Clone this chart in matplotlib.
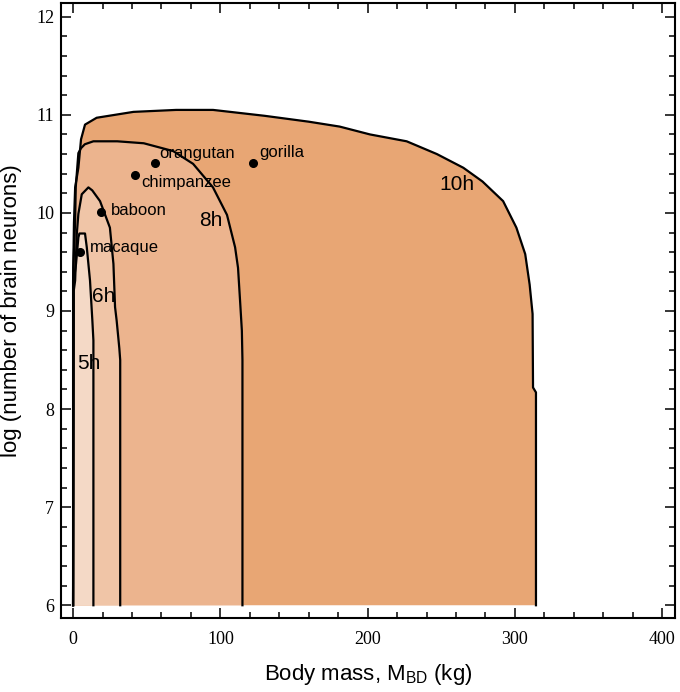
import matplotlib

matplotlib.use("Agg")
import matplotlib.pyplot as plt  # noqa: E402
from matplotlib.ticker import MultipleLocator  # noqa: E402

plt.rcParams["mathtext.fontset"] = "custom"
plt.rcParams["mathtext.rm"] = "Liberation Sans"

SANS = "Liberation Sans"
SERIF = "Liberation Serif"

# Region outlines (body mass kg, log neurons).
# Each outline runs from the bottom-left corner, over the top, down to bottom-right.
h10_x = [0, 0, 0.6, 1.4, 3.6, 5.4, 8.1, 16, 41, 70, 95, 130, 160, 181, 201.6, 226.5,
         247, 265, 278, 292, 301, 307, 310, 312, 312.3, 314.3, 314.3]
h10_y = [6, 9.3, 9.9, 10.26, 10.46, 10.75, 10.9, 10.97, 11.03, 11.05, 11.05, 10.99,
         10.93, 10.88, 10.8, 10.73, 10.6, 10.46, 10.32, 10.12, 9.85, 9.58, 9.27,
         8.97, 8.22, 8.17, 6]

h8_x = [0, 0.2, 1.4, 1.8, 3.6, 5.4, 8, 13.8, 30, 48, 68, 81.5, 95, 104.5, 110,
        112, 113.4, 114.6, 115, 115]
h8_y = [6, 9.44, 9.92, 10.26, 10.61, 10.66, 10.7, 10.73, 10.73, 10.71, 10.63,
        10.5, 10.26, 9.98, 9.65, 9.44, 9.1, 8.8, 8.5, 6]

h6_x = [0, 0.4, 1.4, 2.5, 3.6, 5.9, 10.4, 13, 18.3, 25, 27.4, 28.5, 29.6, 31.4, 32, 32]
h6_y = [6, 9.2, 9.31, 9.78, 9.99, 10.19, 10.26, 10.23, 10.12, 9.85, 9.48, 9.04,
        8.9, 8.62, 8.5, 6]

h5_x = [0, 0.4, 2, 3.6, 4.3, 8.1, 9.3, 11.5, 13.1, 13.8, 13.8]
h5_y = [6, 9.3, 9.48, 9.75, 9.79, 9.79, 9.65, 9.31, 8.9, 8.7, 6]

region_colors = ["#e8a674", "#ecb48e", "#f0c5a7", "#f4d9c6"]
region_labels = ["10h", "8h", "6h", "5h"]
label_x = [260.7, 93.7, 21, 10.4]
label_y = [10.29, 9.92, 9.15, 8.46]

# Species
species = ["orangutan", "gorilla", "chimpanzee", "baboon", "macaque"]
species_mass = [55.7, 122.4, 42.1, 18.8, 5.0]
species_neurons = [10.51, 10.51, 10.39, 10.01, 9.60]
species_text_x = [58.6, 126.5, 46.2, 25.8, 11.1]
species_text_y = [10.61, 10.62, 10.31, 10.02, 9.65]

fig = plt.figure(figsize=(6.8, 6.92), dpi=100)
ax = fig.add_axes([61 / 680, 1 - 618 / 692, 614 / 680, 615 / 692])

outlines = [(h10_x, h10_y), (h8_x, h8_y), (h6_x, h6_y), (h5_x, h5_y)]
for (xs, ys), col in zip(outlines, region_colors):
    ax.fill(xs, ys, color=col, lw=0, zorder=1)
    ax.plot(xs, ys, color="black", lw=1.6, zorder=2, solid_joinstyle="round")

for lab, lx, ly in zip(region_labels, label_x, label_y):
    ax.text(lx, ly, lab, fontsize=15, family=SANS, ha="center", va="center", zorder=4)

ax.plot(species_mass, species_neurons, "o", color="black", ms=5.5, zorder=5)
for name, tx, ty in zip(species, species_text_x, species_text_y):
    ax.text(tx, ty, name, fontsize=12, family=SANS, ha="left", va="center", zorder=4)

ax.set_xlim(-8.2, 408.7)
ax.set_ylim(5.87, 12.14)
ax.xaxis.set_major_locator(MultipleLocator(100))
ax.xaxis.set_minor_locator(MultipleLocator(20))
ax.yaxis.set_major_locator(MultipleLocator(1))
ax.yaxis.set_minor_locator(MultipleLocator(0.2))
ax.tick_params(which="both", direction="in", top=True, right=True, width=1.1, color="black")
ax.tick_params(which="major", length=7)
ax.tick_params(which="minor", length=4)
ax.tick_params(axis="x", pad=9)
ax.tick_params(axis="y", pad=5)
for lbl in ax.get_xticklabels() + ax.get_yticklabels():
    lbl.set_family(SERIF)
    lbl.set_fontsize(13)
for sp in ax.spines.values():
    sp.set_linewidth(1.5)

ax.set_xlabel(r"Body mass, M$_{\rm BD}$ (kg)", fontsize=16, family=SANS)
ax.set_ylabel("log (number of brain neurons)", fontsize=16, family=SANS)
ax.xaxis.set_label_coords(0.5, -0.071)
ax.yaxis.set_label_coords(-0.064, 0.5)

fig.savefig("out.png", dpi=100)
